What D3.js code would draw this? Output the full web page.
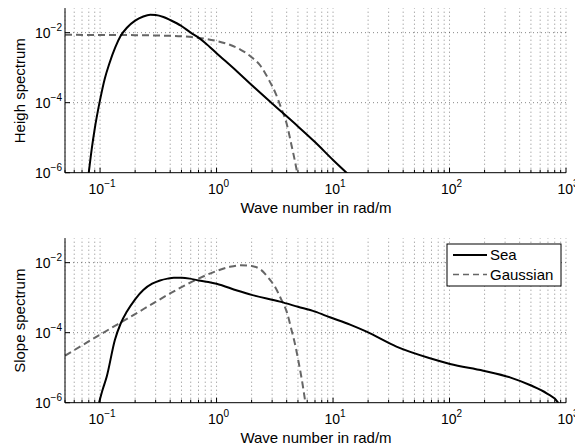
<!DOCTYPE html>
<html>
<head>
<meta charset="utf-8">
<script src="https://cdn.jsdelivr.net/npm/d3@7"></script>
<style>
  body { margin: 0; background: #fff; }
  svg { display: block; font-family: "Liberation Sans", Arial, sans-serif; }
</style>
</head>
<body>
<script>
// wave numbers (rad/m) and spectrum values
var xTickExp = [-1, 0, 1, 2, 3];
var yTickExp = [-6, -4, -2];

var seaHeightK = [0.080, 0.085, 0.09, 0.1, 0.11, 0.12, 0.135, 0.15, 0.17, 0.2, 0.235, 0.27, 0.3, 0.35, 0.4, 0.5, 0.6, 0.7, 0.8, 1.0, 1.5, 2, 3, 5, 7, 10, 13.5];
var seaHeightV = [1.0e-6, 5e-6, 1.8e-5, 1.2e-4, 5e-4, 1.3e-3, 3.8e-3, 8e-3, 0.0138, 0.022, 0.029, 0.0325, 0.032, 0.028, 0.023, 0.0155, 0.010, 0.0072, 0.0051, 0.0026, 7.8e-4, 3.2e-4, 9.5e-5, 2.1e-5, 7.5e-6, 2.3e-6, 9e-7];

var gaussHeightK = [0.05, 0.1, 0.2, 0.3, 0.5, 0.7, 1.0, 1.3, 1.6, 2.0, 2.4, 2.8, 3.2, 3.6, 4.0, 4.4, 4.8, 5.1];
var gaussHeightV = [0.0087, 0.0086, 0.0085, 0.0083, 0.0079, 0.0071, 0.0058, 0.0045, 0.0033, 0.0020, 0.0011, 4.6e-4, 1.9e-4, 6.8e-5, 2.5e-5, 6.1e-6, 1.55e-6, 5e-7];

var seaSlopeK = [0.098, 0.105, 0.114, 0.134, 0.15, 0.17, 0.2, 0.235, 0.28, 0.327, 0.38, 0.43, 0.5, 0.59, 0.7, 0.85, 1.0, 1.5, 2.0, 3.5, 5, 7, 9.4, 14, 19.4, 35, 68, 101, 195, 330, 490, 682, 857, 900];
var seaSlopeV = [1e-6, 2.3e-6, 5.5e-6, 6.2e-5, 1.8e-4, 4e-4, 9e-4, 1.66e-3, 2.5e-3, 3.1e-3, 3.5e-3, 3.7e-3, 3.7e-3, 3.5e-3, 3.1e-3, 2.8e-3, 2.5e-3, 1.6e-3, 1.2e-3, 7.7e-4, 5.5e-4, 4e-4, 2.75e-4, 1.7e-4, 1.07e-4, 4e-5, 1.86e-5, 1.28e-5, 8.2e-6, 5.3e-6, 3.2e-6, 1.85e-6, 1e-6, 7e-7];

var gaussSlopeK = [0.05, 0.1, 0.2, 0.3, 0.5, 0.7, 1.0, 1.3, 1.6, 2.0, 2.4, 2.8, 3.2, 3.6, 4.0, 4.4, 4.8, 5.0, 5.4, 5.8];
var gaussSlopeV = [2.2e-5, 8.8e-5, 3.4e-4, 7.6e-4, 2.0e-3, 3.5e-3, 5.8e-3, 7.6e-3, 8.4e-3, 8.0e-3, 6.3e-3, 3.6e-3, 1.95e-3, 8.8e-4, 4e-4, 1.2e-4, 3.6e-5, 1.8e-5, 4.5e-6, 9.7e-7];

var legendNames = ["Sea", "Gaussian"];

var W = 575, H = 448;
var svg = d3.select("body").append("svg").attr("width", W).attr("height", H);

var x = d3.scaleLog().domain([0.05, 1000]).range([65, 566]);

function zip(ks, vs) {
    return ks.map(function(k, i) { return [k, vs[i]]; });
}

function supLabel(sel, exp) {
    sel.append("tspan").text("10");
    sel.append("tspan").attr("dy", -7).attr("font-size", 10).text(exp < 0 ? "\u2212" + (-exp) : exp);
}

function panel(idx, bottom, ylabel, seaData, gaussData) {
    var y = d3.scaleLog().domain([1e-6, 0.05]).range([bottom, bottom - 164.5]);
    var g = svg.append("g");
    var top = bottom - 164.5;

    var clipId = "clip" + idx;
    g.append("clipPath").attr("id", clipId)
        .append("rect").attr("x", 65).attr("y", top).attr("width", 501).attr("height", bottom - top);

    // vertical grid at every decade and minor position
    var minor = [];
    xTickExp.forEach(function(e) {
        for (var m = 1; m <= 9; m++) {
            var v = m * Math.pow(10, e - 1);
            if (v >= 0.05 && v <= 1000) minor.push(v);
        }
    });
    minor.push(1000);
    g.selectAll(".vg").data(minor).enter().append("line")
        .attr("x1", function(d) { return x(d); }).attr("x2", function(d) { return x(d); })
        .attr("y1", bottom).attr("y2", top)
        .attr("stroke", "#000").attr("stroke-opacity", 0.6)
        .attr("stroke-width", 0.8).attr("stroke-dasharray", "1,3");

    g.selectAll(".hg").data([1e-4, 1e-2]).enter().append("line")
        .attr("x1", 65).attr("x2", 566)
        .attr("y1", function(d) { return y(d); }).attr("y2", function(d) { return y(d); })
        .attr("stroke", "#000").attr("stroke-opacity", 0.6)
        .attr("stroke-width", 0.8).attr("stroke-dasharray", "1,3");

    // ticks (inward)
    g.selectAll(".mt").data(minor).enter().append("line")
        .attr("x1", function(d) { return x(d); }).attr("x2", function(d) { return x(d); })
        .attr("y1", bottom).attr("y2", function(d) {
            var l = Math.log10(d);
            return bottom - (Math.abs(l - Math.round(l)) < 1e-9 ? 5 : 3);
        })
        .attr("stroke", "#000").attr("stroke-width", 1);
    g.selectAll(".yt").data(yTickExp).enter().append("line")
        .attr("x1", 65).attr("x2", 70)
        .attr("y1", function(d) { return y(Math.pow(10, d)); })
        .attr("y2", function(d) { return y(Math.pow(10, d)); })
        .attr("stroke", "#000");

    var line = d3.line()
        .x(function(d) { return x(d[0]); })
        .y(function(d) { return y(d[1]); })
        .curve(d3.curveMonotoneX);

    var plot = g.append("g").attr("clip-path", "url(#" + clipId + ")");
    plot.append("path").datum(gaussData).attr("d", line)
        .attr("fill", "none").attr("stroke", "#666").attr("stroke-width", 2)
        .attr("stroke-dasharray", "7,4");
    plot.append("path").datum(seaData).attr("d", line)
        .attr("fill", "none").attr("stroke", "#000").attr("stroke-width", 2);

    // axes lines
    g.append("line").attr("x1", 65).attr("x2", 566).attr("y1", bottom).attr("y2", bottom)
        .attr("stroke", "#000").attr("stroke-width", 1);
    g.append("line").attr("x1", 65).attr("x2", 65).attr("y1", bottom).attr("y2", top)
        .attr("stroke", "#000").attr("stroke-width", 1);

    // tick labels
    xTickExp.forEach(function(e) {
        var t = g.append("text").attr("x", x(Math.pow(10, e)) + 2).attr("y", bottom + 21)
            .attr("text-anchor", "middle").attr("font-size", 14).attr("fill", "#000");
        supLabel(t, e);
    });
    yTickExp.forEach(function(e) {
        var t = g.append("text").attr("x", 62).attr("y", y(Math.pow(10, e)) + 5)
            .attr("text-anchor", "end").attr("font-size", 14).attr("fill", "#000");
        supLabel(t, e);
    });

    g.append("text").attr("x", 316).attr("y", bottom + 40)
        .attr("text-anchor", "middle").attr("font-size", 15).attr("fill", "#000")
        .text("Wave number in rad/m");
    g.append("text")
        .attr("transform", "translate(25," + (bottom - 82) + ") rotate(-90)")
        .attr("text-anchor", "middle").attr("font-size", 15).attr("fill", "#000")
        .text(ylabel);
    return g;
}

panel(0, 172.7, "Heigh spectrum", zip(seaHeightK, seaHeightV), zip(gaussHeightK, gaussHeightV));
var g2 = panel(1, 402.7, "Slope spectrum", zip(seaSlopeK, seaSlopeV), zip(gaussSlopeK, gaussSlopeV));

// legend
var leg = g2.append("g").attr("transform", "translate(447,244)");
leg.append("rect").attr("width", 114).attr("height", 42)
    .attr("fill", "#fff").attr("stroke", "#000").attr("stroke-width", 1);
legendNames.forEach(function(name, i) {
    var yy = 11 + i * 19.5;
    leg.append("line").attr("x1", 6).attr("x2", 40).attr("y1", yy).attr("y2", yy)
        .attr("stroke", i === 0 ? "#000" : "#666").attr("stroke-width", i === 0 ? 2 : 1.5)
        .attr("stroke-dasharray", i === 0 ? null : "6,4");
    leg.append("text").attr("x", 43).attr("y", yy + 5).attr("font-size", 15).attr("fill", "#000")
        .text(name);
});
</script>
</body>
</html>
